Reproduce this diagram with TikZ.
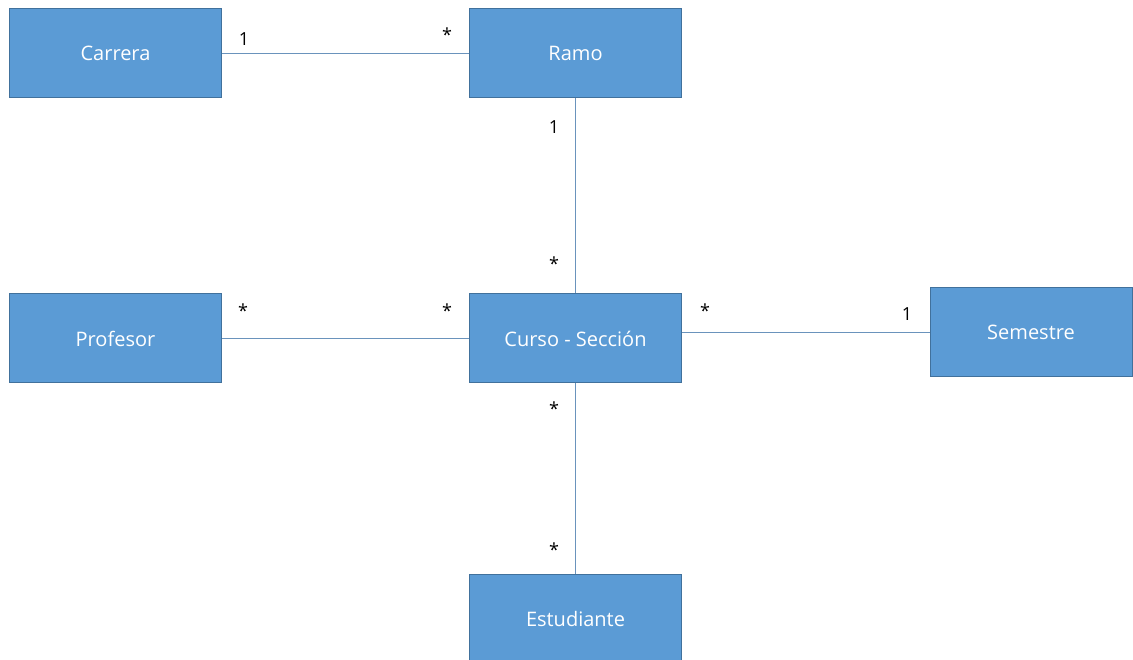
\documentclass[tikz,border=0pt]{standalone}
\usepackage{fontspec}
\setmainfont{Open Sans}
\definecolor{boxfill}{HTML}{5B9BD5}
\definecolor{boxdraw}{HTML}{41719C}
\definecolor{linec}{HTML}{6A93BC}
\begin{document}
\begin{tikzpicture}[x=1pt,y=-1pt,
  entity/.style={draw=boxdraw,line width=1pt,fill=boxfill,text=white,minimum width=212pt,minimum height=89pt,inner sep=0pt,font=\fontsize{20}{24}\selectfont},
  conn/.style={draw=linec,line width=1pt},
  mult/.style={font=\fontsize{18}{20}\selectfont,text=black,inner sep=0pt}]
\useasboundingbox (0,0) rectangle (1133,660);
\node[entity] (carrera) at (115.5,53.5) {Carrera};
\node[entity] (ramo) at (575.5,53.5) {Ramo};
\node[entity] (profesor) at (115.5,338.5) {Profesor};
\node[entity] (curso) at (575.5,338.5) {Curso - Sección};
\node[entity,minimum width=202pt] (semestre) at (1031,332.5) {Semestre};
\node[entity] (estudiante) at (575.5,618.5) {Estudiante};
\draw[conn] (carrera) -- (ramo);
\draw[conn] (ramo) -- (curso);
\draw[conn] (profesor) -- (curso);
\draw[conn] (curso.east |- semestre.west) -- (semestre.west);
\draw[conn] (curso) -- (estudiante);
\node[mult] (m1) at (244,39) {1};
\node[mult] (m2) at (447,35) {*};
\node[mult] (m3) at (554,127) {1};
\node[mult] (m4) at (554,264) {*};
\node[mult] (m5) at (243,311) {*};
\node[mult] (m6) at (447,311) {*};
\node[mult] (m7) at (705,311) {*};
\node[mult] (m8) at (907,314) {1};
\node[mult] (m9) at (554,409) {*};
\node[mult] (m10) at (554,550) {*};
\end{tikzpicture}
\end{document}
